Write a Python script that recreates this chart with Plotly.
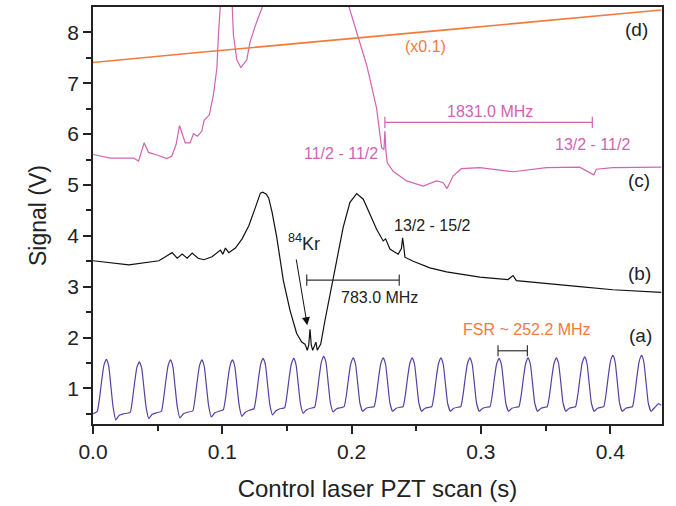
import plotly.graph_objects as go

# ---- trace (a): cavity transmission (FSR fringes) ----
a_x = [0.0000,
       0.0033, 0.0051, 0.0067, 0.0083, 0.0094, 0.0103, 0.0112, 0.0123, 0.0138, 0.0155, 0.0176, 0.0203, 0.0234,
       0.0288, 0.0306, 0.0322, 0.0338, 0.0349, 0.0358, 0.0367, 0.0378, 0.0393, 0.0410, 0.0431, 0.0458, 0.0489,
       0.0529, 0.0547, 0.0563, 0.0579, 0.0590, 0.0599, 0.0608, 0.0619, 0.0634, 0.0651, 0.0672, 0.0699, 0.0730,
       0.0772, 0.0790, 0.0806, 0.0822, 0.0833, 0.0842, 0.0851, 0.0862, 0.0877, 0.0894, 0.0915, 0.0942, 0.0973,
       0.1008, 0.1026, 0.1042, 0.1058, 0.1069, 0.1078, 0.1087, 0.1098, 0.1113, 0.1130, 0.1151, 0.1178, 0.1209,
       0.1245, 0.1263, 0.1279, 0.1295, 0.1306, 0.1315, 0.1324, 0.1335, 0.1350, 0.1367, 0.1388, 0.1415, 0.1446,
       0.1482, 0.1500, 0.1516, 0.1532, 0.1543, 0.1552, 0.1561, 0.1572, 0.1587, 0.1604, 0.1625, 0.1652, 0.1683,
       0.1714, 0.1732, 0.1748, 0.1764, 0.1775, 0.1784, 0.1793, 0.1804, 0.1819, 0.1836, 0.1857, 0.1884, 0.1915,
       0.1942, 0.1960, 0.1976, 0.1992, 0.2003, 0.2012, 0.2021, 0.2032, 0.2047, 0.2064, 0.2085, 0.2112, 0.2143,
       0.2174, 0.2192, 0.2208, 0.2224, 0.2235, 0.2244, 0.2253, 0.2264, 0.2279, 0.2296, 0.2317, 0.2344, 0.2375,
       0.2398, 0.2416, 0.2432, 0.2448, 0.2459, 0.2468, 0.2477, 0.2488, 0.2503, 0.2520, 0.2541, 0.2568, 0.2599,
       0.2620, 0.2638, 0.2654, 0.2670, 0.2681, 0.2690, 0.2699, 0.2710, 0.2725, 0.2742, 0.2763, 0.2790, 0.2821,
       0.2844, 0.2862, 0.2878, 0.2894, 0.2905, 0.2914, 0.2923, 0.2934, 0.2949, 0.2966, 0.2987, 0.3014, 0.3045,
       0.3070, 0.3088, 0.3104, 0.3120, 0.3131, 0.3140, 0.3149, 0.3160, 0.3175, 0.3192, 0.3213, 0.3240, 0.3271,
       0.3294, 0.3312, 0.3328, 0.3344, 0.3355, 0.3364, 0.3373, 0.3384, 0.3399, 0.3416, 0.3437, 0.3464, 0.3495,
       0.3513, 0.3531, 0.3547, 0.3563, 0.3574, 0.3583, 0.3592, 0.3603, 0.3618, 0.3635, 0.3656, 0.3683, 0.3714,
       0.3732, 0.3750, 0.3766, 0.3782, 0.3793, 0.3802, 0.3811, 0.3822, 0.3837, 0.3854, 0.3875, 0.3902, 0.3933,
       0.3950, 0.3968, 0.3984, 0.4000, 0.4011, 0.4020, 0.4029, 0.4040, 0.4055, 0.4072, 0.4093, 0.4120, 0.4151,
       0.4172, 0.4190, 0.4206, 0.4222, 0.4233, 0.4242, 0.4251, 0.4262, 0.4277, 0.4294, 0.4315, 0.4342, 0.4373,
       0.4394]
a_y = [0.50,
       0.55, 0.82, 1.15, 1.44, 1.53, 1.57, 1.53, 1.42, 1.05, 0.64, 0.38, 0.47, 0.50,
       0.53, 0.80, 1.12, 1.40, 1.48, 1.52, 1.48, 1.38, 1.03, 0.64, 0.41, 0.49, 0.52,
       0.55, 0.82, 1.15, 1.43, 1.52, 1.56, 1.52, 1.41, 1.05, 0.65, 0.42, 0.50, 0.53,
       0.56, 0.82, 1.15, 1.43, 1.52, 1.56, 1.52, 1.41, 1.05, 0.66, 0.44, 0.52, 0.55,
       0.58, 0.83, 1.16, 1.43, 1.52, 1.56, 1.52, 1.41, 1.06, 0.67, 0.45, 0.53, 0.57,
       0.60, 0.85, 1.18, 1.46, 1.55, 1.59, 1.55, 1.44, 1.08, 0.69, 0.48, 0.56, 0.60,
       0.62, 0.87, 1.19, 1.46, 1.55, 1.59, 1.55, 1.44, 1.09, 0.70, 0.51, 0.58, 0.61,
       0.63, 0.88, 1.21, 1.49, 1.59, 1.63, 1.59, 1.47, 1.10, 0.71, 0.54, 0.60, 0.62,
       0.64, 0.88, 1.20, 1.47, 1.56, 1.60, 1.56, 1.45, 1.10, 0.71, 0.55, 0.61, 0.63,
       0.64, 0.88, 1.20, 1.47, 1.56, 1.60, 1.56, 1.45, 1.10, 0.71, 0.55, 0.61, 0.63,
       0.64, 0.88, 1.20, 1.47, 1.56, 1.60, 1.56, 1.45, 1.10, 0.71, 0.55, 0.61, 0.63,
       0.64, 0.88, 1.20, 1.47, 1.56, 1.60, 1.56, 1.45, 1.10, 0.71, 0.55, 0.61, 0.63,
       0.64, 0.88, 1.20, 1.47, 1.56, 1.60, 1.56, 1.45, 1.10, 0.71, 0.55, 0.61, 0.63,
       0.64, 0.88, 1.20, 1.47, 1.55, 1.59, 1.55, 1.45, 1.10, 0.71, 0.55, 0.61, 0.63,
       0.64, 0.88, 1.20, 1.47, 1.56, 1.60, 1.56, 1.45, 1.10, 0.71, 0.55, 0.61, 0.63,
       0.64, 0.88, 1.20, 1.47, 1.56, 1.60, 1.56, 1.45, 1.10, 0.71, 0.55, 0.61, 0.63,
       0.64, 0.89, 1.21, 1.49, 1.58, 1.62, 1.58, 1.46, 1.10, 0.71, 0.55, 0.61, 0.63,
       0.64, 0.90, 1.23, 1.51, 1.61, 1.65, 1.61, 1.48, 1.11, 0.71, 0.55, 0.61, 0.63,
       0.64, 0.90, 1.23, 1.51, 1.61, 1.65, 1.61, 1.48, 1.11, 0.71, 0.55, 0.62, 0.70,
       0.67]

# ---- trace (b): saturated absorption (black) ----
b_x = [0.0000, 0.0278, 0.0510, 0.0612, 0.0651, 0.0690, 0.0728, 0.0767, 0.0813, 0.0857,
       0.0921, 0.0985, 0.1004, 0.1024, 0.1050, 0.1101, 0.1153, 0.1205, 0.1256, 0.1294,
       0.1313, 0.1340, 0.1359, 0.1385, 0.1421, 0.1472, 0.1524, 0.1575, 0.1614, 0.1639,
       0.1657, 0.1668, 0.1678, 0.1688, 0.1699, 0.1724, 0.1734, 0.1761, 0.1794, 0.1832,
       0.1884, 0.1935, 0.1987, 0.2039, 0.2090, 0.2141, 0.2193, 0.2244, 0.2263, 0.2296,
       0.2360, 0.2385, 0.2394, 0.2405, 0.2412, 0.2476, 0.2605, 0.2734, 0.2991, 0.3209,
       0.3248, 0.3274, 0.3506, 0.3763, 0.4020, 0.4394]
b_y = [3.51, 3.43, 3.51, 3.67, 3.56, 3.64, 3.56, 3.66, 3.56, 3.53,
       3.59, 3.72, 3.64, 3.76, 3.67, 3.76, 3.94, 4.20, 4.56, 4.84,
       4.86, 4.82, 4.74, 4.46, 3.97, 3.12, 2.53, 2.08, 1.91, 1.87,
       1.75, 1.85, 2.16, 1.85, 1.75, 1.91, 1.75, 1.87, 2.34, 2.86,
       3.51, 4.17, 4.66, 4.83, 4.72, 4.43, 4.13, 3.90, 3.94, 3.74,
       3.64, 3.75, 3.96, 3.75, 3.58, 3.50, 3.37, 3.29, 3.19, 3.14,
       3.22, 3.12, 3.07, 3.00, 2.94, 2.89]

# ---- trace (c): magenta spectrum ----
c_x = [0.0000, 0.0134, 0.0314, 0.0352, 0.0396, 0.0429, 0.0494, 0.0571, 0.0610, 0.0643,
       0.0669, 0.0713, 0.0751, 0.0777, 0.0808, 0.0842, 0.0859, 0.0900, 0.0931, 0.0958,
       0.0970, 0.0983, 0.1010, 0.1060, 0.1078, 0.1086, 0.1112, 0.1143, 0.1189, 0.1215,
       0.1266, 0.1317, 0.1400, 0.1900, 0.1974, 0.2039, 0.2116, 0.2193, 0.2232, 0.2250,
       0.2257, 0.2265, 0.2275, 0.2321, 0.2425, 0.2553, 0.2656, 0.2707, 0.2738, 0.2785,
       0.2849, 0.2991, 0.3248, 0.3506, 0.3763, 0.3873, 0.3892, 0.4020, 0.4394]
c_y = [5.60, 5.53, 5.53, 5.47, 5.83, 5.64, 5.59, 5.52, 5.57, 5.80,
       6.17, 5.83, 5.83, 6.01, 5.96, 6.06, 6.27, 6.38, 6.77, 7.30,
       7.95, 8.55, 9.50, 9.50, 8.55, 7.95, 7.46, 7.31, 7.46, 7.82,
       8.21, 8.55, 9.50, 9.50, 8.55, 8.01, 7.36, 6.51, 5.73, 5.70,
       6.06, 5.67, 5.44, 5.27, 5.08, 4.98, 5.08, 5.05, 4.93, 5.18,
       5.32, 5.34, 5.26, 5.34, 5.35, 5.20, 5.31, 5.34, 5.35]

# ---- trace (d): orange ramp (x0.1) ----
d_x = [0.0000, 0.0831, 0.2730, 0.4394]
d_y = [7.41, 7.61, 8.05, 8.44]

# ---- measurement brackets ----
br1831_x = [0.2257, 0.3861]; br1831_y = [6.23, 6.23]
br783_x = [0.1653, 0.2368];  br783_y = [3.13, 3.13]
brfsr_x = [0.3132, 0.3359];  brfsr_y = [1.74, 1.74]

# ---- axis ticks ----
x_ticks = [0.0, 0.1, 0.2, 0.3, 0.4]
x_ticklabels = ["0.0", "0.1", "0.2", "0.3", "0.4"]
y_ticks = [1, 2, 3, 4, 5, 6, 7, 8]
y_ticklabels = ["1", "2", "3", "4", "5", "6", "7", "8"]

PURPLE = "#5a3fa3"
BLACK = "#111111"
MAGENTA = "#d163b3"
ORANGE = "#f07b3c"
TXT = "#222222"
FONT = "Liberation Sans, Arial, Helvetica, sans-serif"

fig = go.Figure()
fig.add_trace(go.Scatter(x=a_x, y=a_y, mode="lines", line=dict(color=PURPLE, width=1.2, shape="spline", smoothing=0.4)))
fig.add_trace(go.Scatter(x=b_x, y=b_y, mode="lines", line=dict(color=BLACK, width=1.2)))
fig.add_trace(go.Scatter(x=c_x, y=c_y, mode="lines", line=dict(color=MAGENTA, width=1.2)))
fig.add_trace(go.Scatter(x=d_x, y=d_y, mode="lines", line=dict(color=ORANGE, width=1.6)))

for bx, by, col in [(br1831_x, br1831_y, MAGENTA), (br783_x, br783_y, "#333333"), (brfsr_x, brfsr_y, "#333333")]:
    fig.add_trace(go.Scatter(x=bx, y=by, mode="lines+markers",
                             line=dict(color=col, width=1.2),
                             marker=dict(symbol="line-ns", size=8, line=dict(color=col, width=1.2))))

def ann(text, x, y, color, size):
    fig.add_annotation(x=x, y=y, xref="x", yref="y", text=text, showarrow=False,
                       font=dict(family=FONT, size=size, color=color))

ann("(d)", 0.4203, 8.05, TXT, 19)
ann("(x0.1)", 0.2574, 7.72, ORANGE, 16)
ann("1831.0 MHz", 0.3068, 6.45, MAGENTA, 16)
ann("11/2 - 11/2", 0.1917, 5.61, MAGENTA, 16)
ann("13/2 - 11/2", 0.3863, 5.80, MAGENTA, 16)
ann("(c)", 0.4219, 5.08, TXT, 19)
ann("13/2 - 15/2", 0.2628, 4.20, TXT, 16)
ann("(b)", 0.4227, 3.26, TXT, 19)
ann("<sup>84</sup>Kr", 0.1632, 3.86, TXT, 18)
ann("783.0 MHz", 0.2219, 2.79, TXT, 16)
ann("FSR ~ 252.2 MHz", 0.3358, 2.16, ORANGE, 16)
ann("(a)", 0.4234, 2.04, TXT, 19)

# arrow to 84Kr peak
fig.add_annotation(x=0.1657, y=2.24, ax=0.1570, ay=3.565, xref="x", yref="y", axref="x", ayref="y",
                   text="", showarrow=True, arrowhead=2, arrowsize=1.6, arrowwidth=1, arrowcolor=BLACK)

fig.update_layout(
    width=676, height=506,
    margin=dict(l=93, r=14, t=5, b=82),
    paper_bgcolor="white", plot_bgcolor="white",
    showlegend=False,
    font=dict(family=FONT, color=TXT),
)
fig.update_xaxes(
    range=[0, 0.44], tickvals=x_ticks, ticktext=x_ticklabels,
    ticks="outside", ticklen=8, tickwidth=1.5, tickcolor=TXT,
    minor=dict(tickvals=[0.05, 0.15, 0.25, 0.35], ticks="outside", ticklen=5, tickwidth=1.5, tickcolor=TXT),
    showline=True, linecolor=TXT, linewidth=1.5, mirror=True,
    showgrid=False, zeroline=False,
    tickfont=dict(family=FONT, size=21, color=TXT),
    title=dict(text="Control laser PZT scan (s)", font=dict(family=FONT, size=24, color=TXT), standoff=18),
)
fig.update_yaxes(
    range=[0.3, 8.5], tickvals=y_ticks, ticktext=y_ticklabels,
    ticks="outside", ticklen=8, tickwidth=1.5, tickcolor=TXT,
    minor=dict(tickvals=[0.5, 1.5, 2.5, 3.5, 4.5, 5.5, 6.5, 7.5], ticks="outside", ticklen=5, tickwidth=1.5, tickcolor=TXT),
    showline=True, linecolor=TXT, linewidth=1.5, mirror=True,
    showgrid=False, zeroline=False,
    tickfont=dict(family=FONT, size=21, color=TXT),
    title=dict(text="Signal (V)", font=dict(family=FONT, size=23, color=TXT), standoff=14),
)

fig.write_html("out.html")
